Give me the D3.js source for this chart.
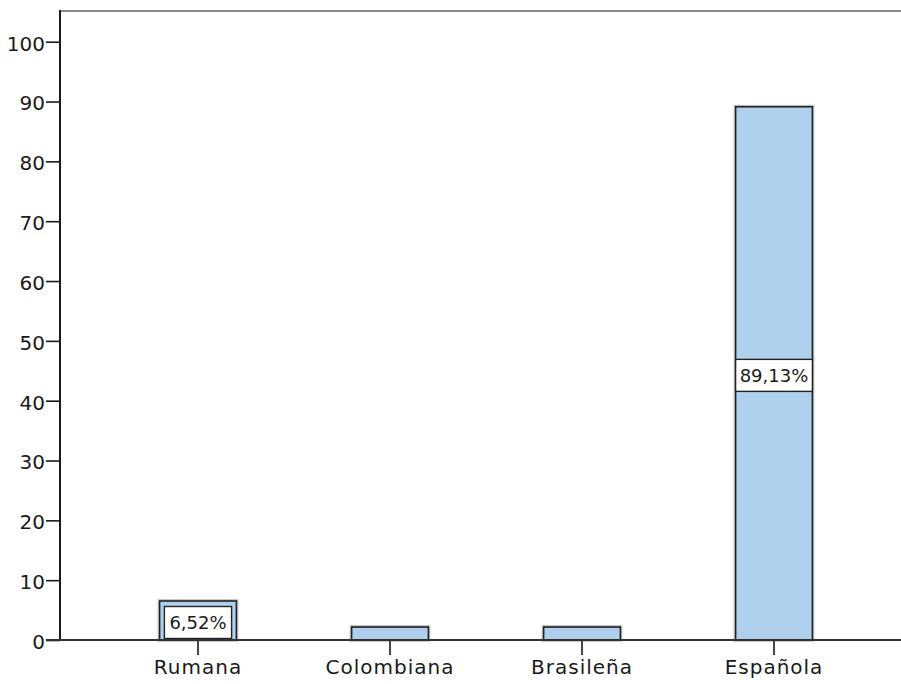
<!DOCTYPE html>
<html>
<head>
<meta charset="utf-8">
<script src="https://cdn.jsdelivr.net/npm/d3@7"></script>
<style>
  html, body { margin: 0; padding: 0; background: #fff; }
  svg { display: block; }
  text { font-family: "DejaVu Sans", sans-serif; fill: #1a1a1a; }
</style>
</head>
<body>
<svg id="chart" width="901" height="684"></svg>
<script>
// Data
const categories = ["Rumana", "Colombiana", "Brasileña", "Española"];
const percentValues = [6.52, 2.17, 2.17, 89.13];
const barLabels = ["6,52%", "", "", "89,13%"];
const yTicks = [0, 10, 20, 30, 40, 50, 60, 70, 80, 90, 100];
const yMax = 105.3;

(function () {
const svg = d3.select("#chart");
const mLeft = 60, mTop = 10, mBottom = 640, mRight = 901;

const x = d3.scaleBand()
  .domain(categories)
  .range([102, 870])
  .paddingInner(0.6)
  .paddingOuter(0.3);

const y = d3.scaleLinear().domain([0, yMax]).range([mBottom, mTop]);

// top frame line
svg.append("line")
  .attr("x1", mLeft).attr("x2", mRight)
  .attr("y1", mTop + 1).attr("y2", mTop + 1)
  .attr("stroke", "#8a8a8a").attr("stroke-width", 2);

// bars
const g = svg.append("g");
categories.forEach((c, i) => {
  g.append("rect")
    .attr("x", x(c))
    .attr("y", y(percentValues[i]))
    .attr("width", x.bandwidth())
    .attr("height", y(0) - y(percentValues[i]))
    .attr("fill", "#aed0ec")
    .attr("stroke", "#c8c8c8")
    .attr("stroke-width", 4);
  g.append("rect")
    .attr("x", x(c))
    .attr("y", y(percentValues[i]))
    .attr("width", x.bandwidth())
    .attr("height", y(0) - y(percentValues[i]))
    .attr("fill", "#aed0ec")
    .attr("stroke", "#222")
    .attr("stroke-width", 1.6);
});

// bar labels
categories.forEach((c, i) => {
  if (!barLabels[i]) return;
  const cx = x(c) + x.bandwidth() / 2;
  const cy = (y(percentValues[i]) + y(0)) / 2 + 2;
  const lg = svg.append("g");
  const box = lg.append("rect");
  const t = lg.append("text")
    .attr("x", cx).attr("y", cy)
    .attr("text-anchor", "middle")
    .attr("dominant-baseline", "central")
    .style("font-size", "18px")
    .text(barLabels[i]);
  const bw = Math.min(t.node().getComputedTextLength() + 10, x.bandwidth());
  const bh = 32;
  box.attr("x", cx - bw / 2).attr("y", cy - bh / 2)
    .attr("width", bw).attr("height", bh)
    .attr("fill", "#fff").attr("stroke", "#222").attr("stroke-width", 1.4);
});

// y axis
const yAxis = d3.axisLeft(y).tickValues(yTicks).tickSize(14).tickPadding(1).tickFormat(d3.format("d"));
const ya = svg.append("g").attr("transform", `translate(${mLeft},0)`).call(yAxis);
ya.select(".domain").remove();
ya.selectAll(".tick line").attr("stroke", "#1a1a1a").attr("stroke-width", 1.6);
ya.selectAll(".tick text").style("font-size", "20px").attr("dy", "0.42em").attr("fill", "#1a1a1a");
svg.append("line")
  .attr("x1", mLeft).attr("x2", mLeft)
  .attr("y1", mTop).attr("y2", mBottom)
  .attr("stroke", "#1a1a1a").attr("stroke-width", 2);

// x axis
const xAxis = d3.axisBottom(x).tickSize(15).tickPadding(5);
const xa = svg.append("g").attr("transform", `translate(0,${mBottom})`).call(xAxis);
xa.select(".domain").remove();
xa.selectAll(".tick line").attr("stroke", "#1a1a1a").attr("stroke-width", 1.6);
xa.selectAll(".tick text").style("font-size", "20px").style("letter-spacing", "1px").attr("fill", "#1a1a1a");
svg.append("line")
  .attr("x1", mLeft - 14).attr("x2", mRight)
  .attr("y1", mBottom).attr("y2", mBottom)
  .attr("stroke", "#333").attr("stroke-width", 2);
})();
</script>
</body>
</html>
